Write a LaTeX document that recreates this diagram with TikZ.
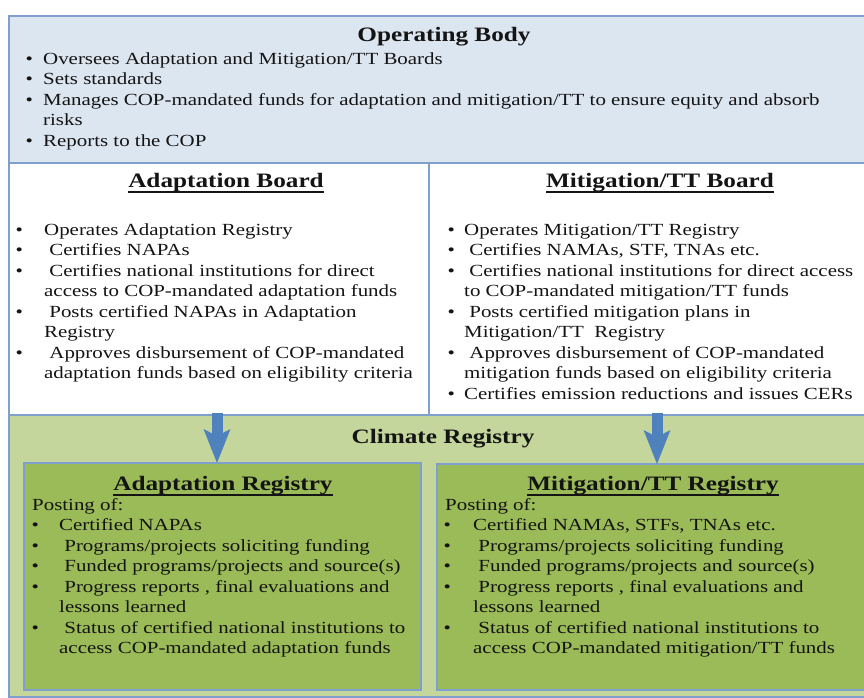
\documentclass[tikz,border=0pt]{standalone}
\usepackage{fontspec}
\setmainfont{Liberation Serif}[FakeStretch=1.23]
\usetikzlibrary{arrows.meta}

\definecolor{opfill}{HTML}{DCE6F1}
\definecolor{edge}{HTML}{7F9FCF}
\definecolor{regbg}{HTML}{C4D69C}
\definecolor{regfill}{HTML}{9BBB59}
\definecolor{arrowblue}{HTML}{4F81BD}
\definecolor{ink}{HTML}{141414}

% list helpers: bullet centred on the node origin, text starts \lgap further right
\newlength\lgap
\newcommand\bitem{\makebox[0pt]{\textbullet}\hspace*{\lgap}}
\newcommand\bcont{\hspace*{\lgap}}
% heading underline drawn as a solid bar below the descenders
\newcommand\hul[1]{\setbox0=\hbox{#1}\rlap{\rule[-6.2pt]{\wd0}{2.3pt}}\box0}

\tikzset{
  panel/.style={draw=edge, line width=1.2pt, anchor=north west, inner sep=0pt, outer sep=0pt},
  heading/.style={anchor=base, inner sep=0pt, text=ink, font=\fontsize{20.5}{24}\selectfont\bfseries},
  listnode/.style={anchor=base west, inner sep=0pt, text=ink, font=\fontsize{17}{20.5}\selectfont},
  feed/.style={draw=arrowblue, line width=11pt,
    -{Stealth[length=34pt, width=27pt, inset=7pt, line width=0pt]}}
}

\begin{document}
\begin{tikzpicture}[x=1pt, y=-1pt]
\useasboundingbox (0,0) rectangle (864,698);

% panels
\node[panel, fill=opfill, minimum width=866pt, minimum height=147pt] (op) at (9,16) {};
\node[panel, fill=white, minimum width=420pt, minimum height=252pt] (ab) at (9,163) {};
\node[panel, fill=white, minimum width=446pt, minimum height=252pt] (mb) at (429,163) {};
\node[panel, fill=regbg, minimum width=866pt, minimum height=282pt] (cr) at (9,415) {};
\node[panel, fill=regfill, minimum width=397pt, minimum height=227pt] (ar) at (24,463) {};
\node[panel, fill=regfill, minimum width=438pt, minimum height=226pt] (mr) at (437,464) {};

% board-to-registry arrows
\coordinate (atop) at (217,413);
\coordinate (mtop) at (657,413);
\draw[feed] (atop) -- (atop |- ar.north);
\draw[feed] (mtop) -- (mtop |- mr.north);

% Operating Body
\node[heading] (opt) at (444,42) {Operating Body};
\node[listnode] (opl) at (29,64.5) {\parbox[t]{830pt}{\setlength\lgap{14pt}%
\bitem Oversees Adaptation and Mitigation/TT Boards\\
\bitem Sets standards\\
\bitem Manages COP-mandated funds for adaptation and mitigation/TT to ensure equity and absorb\\
\bcont risks\\
\bitem Reports to the COP}};

% Adaptation Board
\node[heading] (abt) at (226,187) {\hul{Adaptation Board}};
\node[listnode] (abl) at (19,235) {\parbox[t]{405pt}{\setlength\lgap{25pt}%
\bitem Operates Adaptation Registry\\
\bitem\ Certifies NAPAs\\
\bitem\ Certifies national institutions for direct\\
\bcont access to COP-mandated adaptation funds\\
\bitem\ Posts certified NAPAs in Adaptation\\
\bcont Registry\\
\bitem\ Approves disbursement of COP-mandated\\
\bcont adaptation funds based on eligibility criteria}};

% Mitigation/TT Board
\node[heading] (mbt) at (660,187) {\hul{Mitigation/TT Board}};
\node[listnode] (mbl) at (451,235) {\parbox[t]{420pt}{\setlength\lgap{13pt}%
\bitem Operates Mitigation/TT Registry\\
\bitem\ Certifies NAMAs, STF, TNAs etc.\\
\bitem\ Certifies national institutions for direct access\\
\bcont to COP-mandated mitigation/TT funds\\
\bitem\ Posts certified mitigation plans in\\
\bcont Mitigation/TT\ \ Registry\\
\bitem\ Approves disbursement of COP-mandated\\
\bcont mitigation funds based on eligibility criteria\\
\bitem Certifies emission reductions and issues CERs}};

% Climate Registry
\node[heading] (crt) at (443,443) {Climate Registry};

% Adaptation Registry
\node[heading] (art) at (223,490) {\hul{Adaptation Registry}};
\node[listnode] (arl) at (35,510) {\parbox[t]{390pt}{\setlength\lgap{24pt}%
\hspace*{-3pt}Posting of:\\
\bitem Certified NAPAs\\
\bitem\ Programs/projects soliciting funding\\
\bitem\ Funded programs/projects and source(s)\\
\bitem\ Progress reports , final evaluations and\\
\bcont lessons learned\\
\bitem\ Status of certified national institutions to\\
\bcont access COP-mandated adaptation funds}};

% Mitigation/TT Registry
\node[heading] (mrt) at (653,490) {\hul{Mitigation/TT Registry}};
\node[listnode] (mrl) at (447,510) {\parbox[t]{410pt}{\setlength\lgap{26pt}%
\hspace*{-2pt}Posting of:\\
\bitem Certified NAMAs, STFs, TNAs etc.\\
\bitem\ Programs/projects soliciting funding\\
\bitem\ Funded programs/projects and source(s)\\
\bitem\ Progress reports , final evaluations and\\
\bcont lessons learned\\
\bitem\ Status of certified national institutions to\\
\bcont access COP-mandated mitigation/TT funds}};
\end{tikzpicture}
\end{document}
